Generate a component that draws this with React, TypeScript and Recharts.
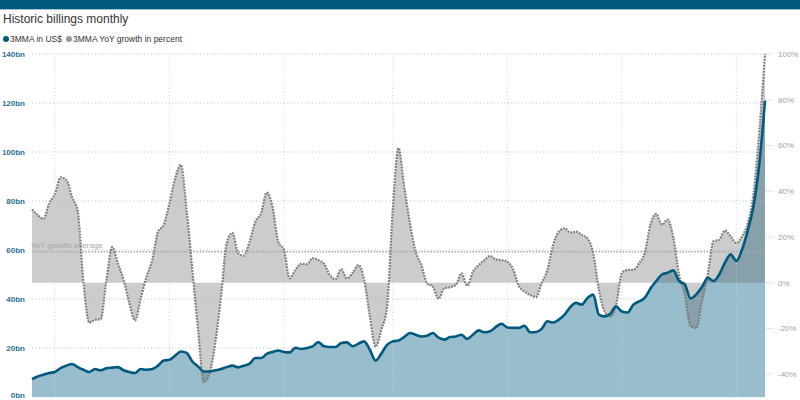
import {
  ComposedChart,
  Area,
  Line,
  XAxis,
  YAxis,
  ReferenceLine,
} from "recharts";

const FONT = "'Liberation Sans', Arial, Helvetica, sans-serif";

// quarterly samples, 1994 Q1 .. 2026 Q1
const PERIODS = Array.from(
  { length: 129 },
  (_, i) => `${1994 + Math.floor(i / 4)} Q${(i % 4) + 1}`
);

// 3MMA billings, US$ bn
const BILLINGS = [
  7.3, 8.4, 9.1, 9.8, 10.2, 11.8, 12.8, 13.5, 12.2, 11.1,
  10.2, 11.4, 10.9, 11.7, 12.0, 12.2, 10.9, 10.2, 9.8, 11.4,
  11.1, 11.4, 12.8, 14.9, 15.2, 16.9, 18.6, 18.0, 14.5, 12.5,
  10.4, 10.4, 10.9, 11.4, 12.2, 12.8, 12.1, 12.8, 13.6, 15.9,
  15.9, 17.6, 18.4, 19.0, 18.4, 18.2, 20.1, 19.6, 20.0, 20.7,
  22.4, 20.7, 20.4, 20.4, 22.0, 22.3, 20.7, 21.8, 22.7, 19.3,
  14.9, 17.7, 21.3, 22.7, 23.1, 24.5, 26.1, 25.4, 24.7, 25.0,
  26.1, 24.2, 23.4, 24.5, 24.7, 25.4, 23.7, 25.4, 27.2, 26.4,
  26.8, 28.6, 29.9, 28.4, 28.2, 28.2, 29.1, 26.4, 26.5, 27.8,
  30.9, 30.4, 31.6, 33.6, 36.7, 38.4, 37.7, 40.4, 41.8, 33.6,
  32.9, 34.0, 37.0, 34.9, 34.5, 37.7, 39.0, 40.5, 44.3, 47.3,
  50.0, 50.7, 51.7, 47.3, 46.0, 40.2, 41.9, 44.9, 48.7, 47.3,
  50.0, 54.8, 58.2, 55.5, 60.2, 68.0, 78.0, 95.0, 121.0,
];

// 3MMA YoY growth, percent
const GROWTH = [
  32.0, 29.6, 27.9, 34.7, 38.8, 46.1, 44.9, 37.4, 31.0, -0.3,
  -17.5, -16.3, -16.0, 1.2, 15.5, 8.5, 1.2, -9.0, -16.5, -6.8,
  2.6, 9.9, 22.3, 25.3, 34.7, 45.7, 51.5, 31.8, 5.6, -20.7,
  -43.5, -39.7, -26.5, -6.1, 17.2, 21.8, 12.9, 11.8, 17.9, 26.7,
  30.4, 39.4, 33.3, 17.9, 14.3, 1.9, 5.6, 8.2, 8.1, 10.7,
  9.9, 8.2, 3.4, 1.5, 5.9, 1.9, 4.4, 7.7, 1.2, -14.9,
  -28.0, -20.7, -10.5, 32.0, 58.8, 42.0, 26.0, 13.6, 7.7, -0.3,
  -1.8, -7.0, -2.5, -2.0, -1.0, 4.1, -1.4, 4.8, 7.7, 9.9,
  11.7, 10.2, 9.9, 9.2, 5.9, -1.4, -3.9, -5.4, -6.3, -0.3,
  5.6, 16.5, 22.3, 23.8, 21.9, 22.3, 20.9, 19.4, 12.9, -3.2,
  -12.7, -14.9, -9.8, 4.1, 5.6, 5.6, 8.5, 13.0, 25.4, 30.1,
  25.4, 27.6, 19.6, 3.5, -5.3, -19.0, -19.8, -8.1, 3.5, 18.1,
  18.8, 22.8, 20.3, 17.4, 20.3, 26.0, 39.0, 66.0, 100.0,
];

const GROWTH_AVERAGE = 13.5;

const USD_TICKS = [0, 20, 40, 60, 80, 100, 120, 140];
const PCT_TICKS = [-40, -20, 0, 20, 40, 60, 80, 100];
// vertical gridlines, roughly every five years
const GRID_PERIODS = ["1995 Q1", "2000 Q1", "2005 Q1", "2009 Q4", "2014 Q4", "2019 Q4", "2024 Q4"];

const BLUE = "#005a80";
const BLUE_FILL = "#98bdcc";
const GRID_BLUE = "#9fc2d4";

function buildData() {
  return PERIODS.map((period, i) => ({
    period,
    billings: BILLINGS[i],
    growth: GROWTH[i],
  }));
}

function AverageLabel(props: any) {
  const vb = props.viewBox || { x: 32, y: 252 };
  return (
    <text
      x={vb.x - 1}
      y={vb.y - 4}
      fill="#a8a8a8"
      fontSize={8}
      fontFamily={FONT}
    >
      YoY growth average
    </text>
  );
}

// left tick; the bottom one is kept just inside the picture
function UsdTick(props: any) {
  const { x, y, payload } = props;
  return (
    <text
      x={x}
      y={Math.min(y, 395.5)}
      dy="0.355em"
      textAnchor="end"
      fill="#2b6f96"
      fontSize={8}
      fontWeight="bold"
      fontFamily={FONT}
    >
      {`${payload.value}bn`}
    </text>
  );
}

export default function App() {
  const data = buildData();

  return (
    <div
      style={{
        position: "absolute",
        left: 0,
        top: 0,
        width: 800,
        height: 400,
        overflow: "hidden",
        background: "#fff",
        fontFamily: FONT,
      }}
    >
      <div
        style={{
          position: "absolute",
          left: 0,
          top: 0,
          width: 800,
          height: 9,
          background: BLUE,
          borderBottom: "1px solid #9dc0d2",
        }}
      />
      <div
        style={{
          position: "absolute",
          left: 3,
          top: 13,
          fontSize: 12,
          lineHeight: "12px",
          color: "#333",
          whiteSpace: "nowrap",
        }}
      >
        Historic billings monthly
      </div>
      <div
        style={{
          position: "absolute",
          left: 0,
          top: 34,
          height: 10,
          fontSize: 8.5,
          lineHeight: "10px",
          color: "#333",
          whiteSpace: "nowrap",
        }}
      >
        <span style={{ position: "absolute", left: 3, top: 2, width: 6, height: 6, borderRadius: 3, background: BLUE }} />
        <span style={{ position: "absolute", left: 10, top: 0 }}>3MMA in US$</span>
        <span style={{ position: "absolute", left: 66, top: 2, width: 6, height: 6, borderRadius: 3, background: "#9a9a9a" }} />
        <span style={{ position: "absolute", left: 73, top: 0 }}>3MMA YoY growth in percent</span>
      </div>

      <ComposedChart
        width={800}
        height={400}
        data={data}
        margin={{ top: 54, right: 0, bottom: 3, left: 0 }}
        style={{ position: "absolute", left: 0, top: 0 }}
      >
        <XAxis
          dataKey="period"
          scale="point"
          padding={{ left: 0, right: 0 }}
          hide
        />
        <YAxis
          yAxisId="usd"
          domain={[0, 140]}
          ticks={USD_TICKS}
          interval={0}
          axisLine={false}
          tickLine={false}
          tickSize={5}
          tickMargin={2}
          width={32}
          tick={UsdTick}
        />
        <YAxis
          yAxisId="pct"
          orientation="right"
          domain={[-50, 100]}
          ticks={PCT_TICKS}
          interval={0}
          tickFormatter={(v) => `${v}%`}
          axisLine={false}
          tickLine={{ stroke: GRID_BLUE, strokeDasharray: "1 2" }}
          tickSize={8}
          tickMargin={5}
          width={35}
          tick={{ fill: "#a0a0a0", fontSize: 8, fontFamily: FONT }}
        />
        <Area
          yAxisId="usd"
          dataKey="billings"
          type="monotone"
          stroke="none"
          fill={BLUE_FILL}
          fillOpacity={1}
          isAnimationActive={false}
        />
        <Area
          yAxisId="pct"
          dataKey="growth"
          type="monotone"
          stroke="none"
          fill="#696969"
          fillOpacity={0.34}
          isAnimationActive={false}
        />
        {/* grid drawn as reference lines so it sits over the filled areas */}
        {GRID_PERIODS.map((p) => (
          <ReferenceLine
            key={p}
            yAxisId="usd"
            x={p}
            stroke="#d0d0d0"
            strokeDasharray="1 2.5"
          />
        ))}
        {USD_TICKS.map((v) => (
          <ReferenceLine
            key={v}
            yAxisId="usd"
            y={v}
            stroke={GRID_BLUE}
            strokeDasharray="1 2.5"
          />
        ))}
        <ReferenceLine
          yAxisId="pct"
          y={GROWTH_AVERAGE}
          stroke="#a8a8a8"
          strokeWidth={1.5}
          strokeDasharray="1.5 1.5"
          label={AverageLabel}
        />
        <Line
          yAxisId="pct"
          dataKey="growth"
          type="monotone"
          stroke="#7c7c7c"
          strokeWidth={2.2}
          strokeDasharray="1.8 1.2"
          dot={false}
          activeDot={false}
          isAnimationActive={false}
        />
        <Line
          yAxisId="usd"
          dataKey="billings"
          type="monotone"
          stroke={BLUE}
          strokeWidth={2.6}
          dot={false}
          activeDot={false}
          isAnimationActive={false}
        />
      </ComposedChart>
    </div>
  );
}
